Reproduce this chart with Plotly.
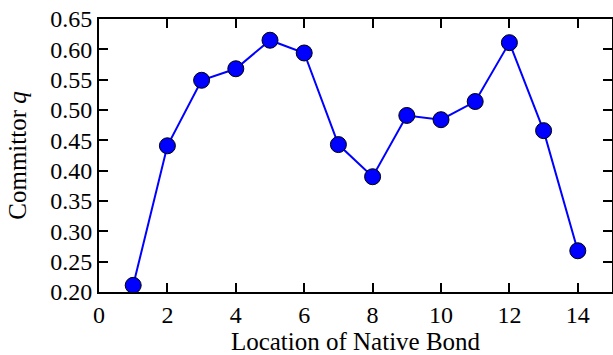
import plotly.graph_objects as go

bond_location = [1, 2, 3, 4, 5, 6, 7, 8, 9, 10, 11, 12, 13, 14]
committor_q = [0.211, 0.441, 0.549, 0.568, 0.615, 0.594, 0.443, 0.390,
               0.491, 0.484, 0.514, 0.611, 0.466, 0.268]
x_ticks = [0, 2, 4, 6, 8, 10, 12, 14]
y_ticks = [0.20, 0.25, 0.30, 0.35, 0.40, 0.45, 0.50, 0.55, 0.60, 0.65]

FONT = "Liberation Serif"

fig = go.Figure()
fig.add_trace(go.Scatter(
    x=bond_location, y=committor_q, mode="lines+markers",
    line=dict(color="#0000ff", width=2),
    marker=dict(size=16, color="#0000ff", line=dict(color="black", width=1)),
    cliponaxis=False,
))

axis_common = dict(
    showgrid=False, zeroline=False, showline=True, linecolor="black", linewidth=2,
    mirror="ticks", ticks="inside", ticklen=9, tickwidth=2, tickcolor="black",
    tickfont=dict(family=FONT, size=24, color="black"), automargin=False,
)

fig.update_layout(
    width=613, height=355,
    margin=dict(l=99, r=1, t=19, b=63),
    paper_bgcolor="white", plot_bgcolor="white",
    showlegend=False,
    template="simple_white",
    xaxis=dict(range=[0, 15], tickvals=x_ticks,
               title=dict(text="Location of Native Bond", font=dict(family=FONT, size=25, color="black"), standoff=15),
               **axis_common),
    yaxis=dict(range=[0.20, 0.65], tickvals=y_ticks, tickformat=".2f",
               title=dict(text="Committor <i>q</i>", font=dict(family=FONT, size=25, color="black"), standoff=16),
               **axis_common),
)

fig.write_html("out.html")
